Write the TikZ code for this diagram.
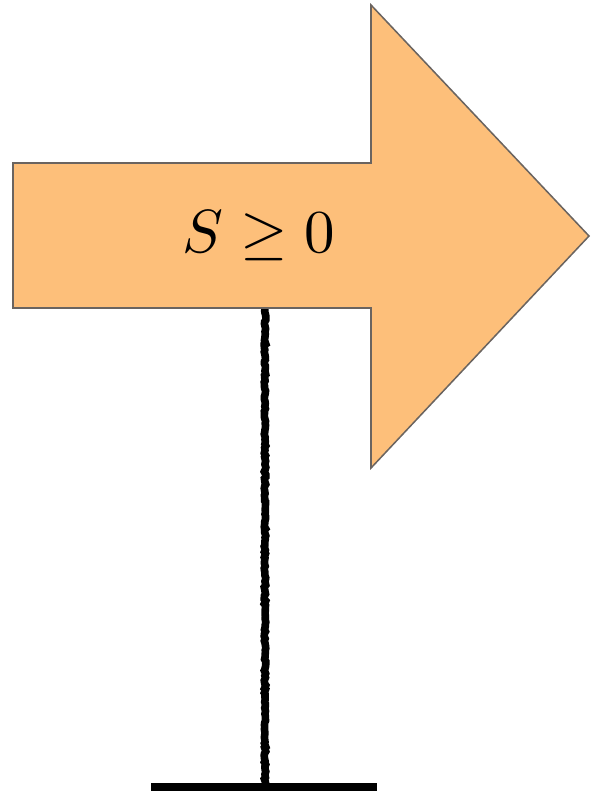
\documentclass[tikz,border=0pt]{standalone}
\usepackage{amsmath}
\usepackage{graphicx}
\usepackage{tikz}
\usetikzlibrary{decorations.pathmorphing}

\definecolor{signfill}{HTML}{FDBF7A}
\definecolor{signedge}{HTML}{6A6460}

\begin{document}
\begin{tikzpicture}[x=0.03cm,y=-0.03cm,
  signbody/.style={draw=signedge,fill=signfill,line width=1.3pt,line join=miter},
  signpost/.style={draw=black,line width=6.5pt,decorate,decoration={random steps,segment length=2pt,amplitude=0.7pt}}]
\useasboundingbox (0,0) rectangle (592,792);
\coordinate (top) at (265,308);
\coordinate (foot) at (265,787);
\coordinate (baseL) at (151,787);
\coordinate (baseR) at (377,787);
\draw[signpost] (top)--(foot);
\draw[line width=7pt] (baseL)--(baseR);
\draw[signbody] (13,163)--(371,163)--(371,5)--(589,236)--(371,468)--(371,308)--(13,308)--cycle;
\node[inner sep=0pt] (lbl) at (259,236) {\scalebox{5.2}{$S \geq 0$}};
\end{tikzpicture}
\end{document}
